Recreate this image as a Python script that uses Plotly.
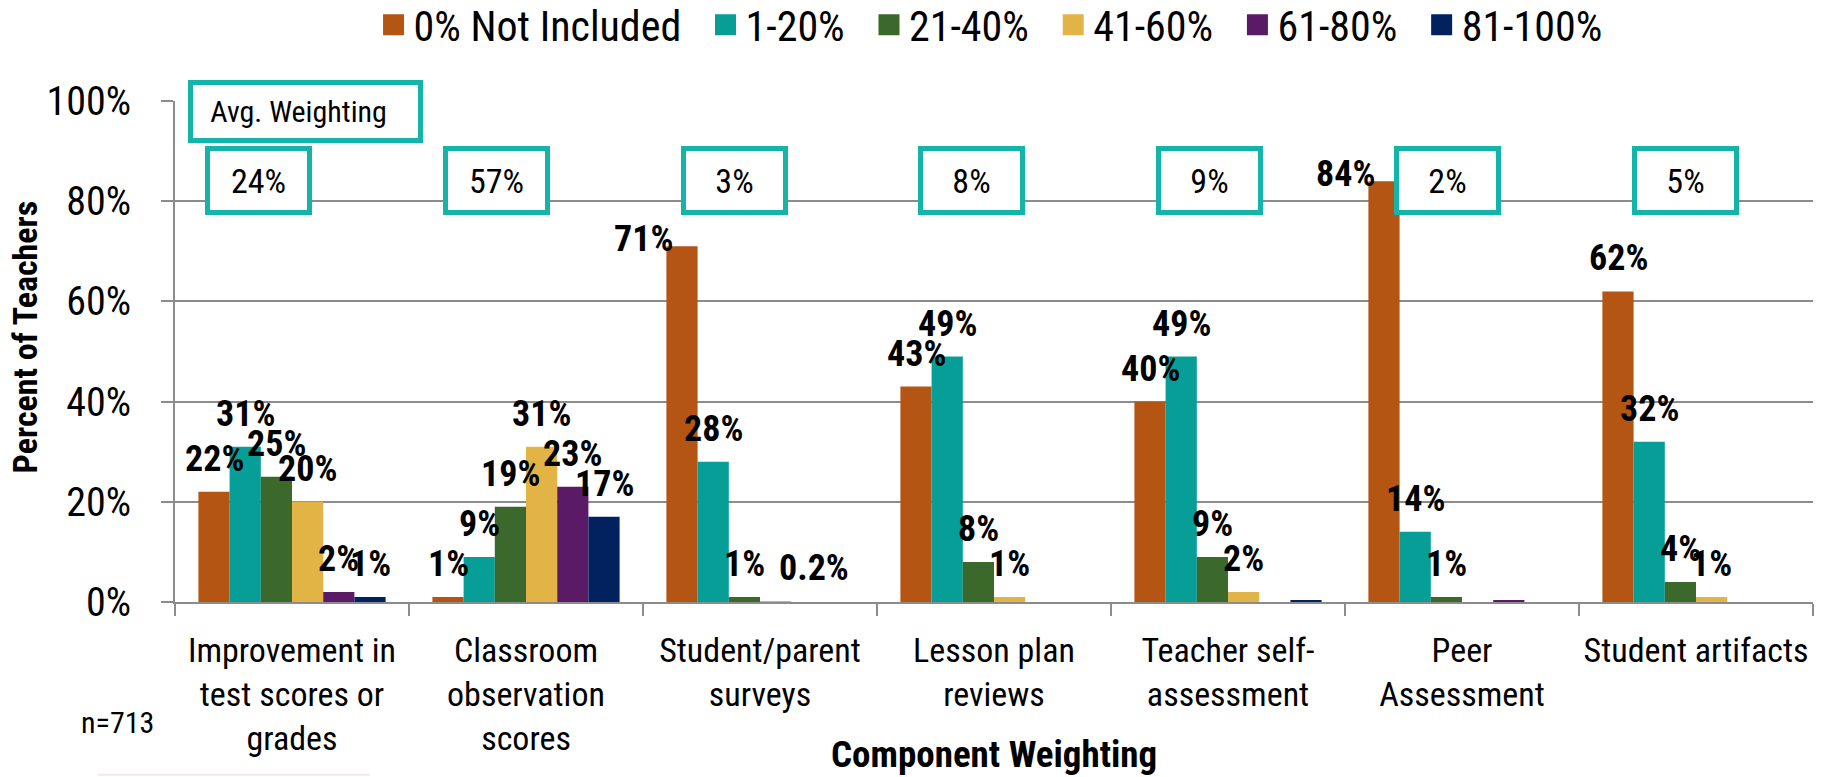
import plotly.graph_objects as go

# ---------------- data ----------------
CATEGORIES = [
    "Improvement in<br>test scores or<br>grades",
    "Classroom<br>observation<br>scores",
    "Student/parent<br>surveys",
    "Lesson plan<br>reviews",
    "Teacher self-<br>assessment",
    "Peer<br>Assessment",
    "Student artifacts",
]
SERIES = ["0% Not Included", "1-20%", "21-40%", "41-60%", "61-80%", "81-100%"]

NOT_INCLUDED = [22, 1, 71, 43, 40, 84, 62]
PCT_1_20 = [31, 9, 28, 49, 49, 14, 32]
PCT_21_40 = [25, 19, 1, 8, 9, 1, 4]
PCT_41_60 = [20, 31, 0.2, 1, 2, 0, 1]
PCT_61_80 = [2, 23, 0, 0, 0, 0.3, 0]
PCT_81_100 = [1, 17, 0, 0, 0.4, 0, 0]

LBL_NOT_INCLUDED = ["22%", "1%", "71%", "43%", "40%", "84%", "62%"]
LBL_1_20 = ["31%", "9%", "28%", "49%", "49%", "14%", "32%"]
LBL_21_40 = ["25%", "19%", "1%", "8%", "9%", "1%", "4%"]
LBL_41_60 = ["20%", "31%", "0.2%", "1%", "2%", "", "1%"]
LBL_61_80 = ["2%", "23%", "", "", "", "", ""]
LBL_81_100 = ["1%", "17%", "", "", "", "", ""]

# first-series labels that sit beside (left of) the bar instead of above it
SIDE_LABEL_CATS = [2, 5]
# (series index, category index) -> horizontal label nudge in px
LABEL_NUDGE = {(3, 2): 38}

AVG_TITLE = "Avg. Weighting"
AVG_WEIGHTING = ["24%", "57%", "3%", "8%", "9%", "2%", "5%"]
Y_TICKS = [0, 20, 40, 60, 80, 100]

COLORS = ["#b45513", "#069e97", "#3b682b", "#e2b446", "#5b1a66", "#02215f"]
BOX_COLOR = "#14b4a8"
GRID = "#8c8c8c"
FONT = "Roboto Condensed, Liberation Sans, Arial, sans-serif"

values = [NOT_INCLUDED, PCT_1_20, PCT_21_40, PCT_41_60, PCT_61_80, PCT_81_100]
labels = [LBL_NOT_INCLUDED, LBL_1_20, LBL_21_40, LBL_41_60, LBL_61_80, LBL_81_100]

N_SERIES = len(SERIES)
GROUP_W = 0.8                 # 1 - bargap
BAR_W = GROUP_W / N_SERIES
label_font = dict(family=FONT, size=36, color="black", weight="bold")

fig = go.Figure()
annotations = []
for k, (name, vals, lbls, col) in enumerate(zip(SERIES, values, labels, COLORS)):
    fig.add_trace(go.Bar(
        x=CATEGORIES, y=vals, name=name, marker_color=col,
        marker_line_width=0, showlegend=False, hoverinfo="skip",
    ))
    # legend entry with a larger square swatch
    fig.add_trace(go.Scatter(
        x=[None], y=[None], mode="markers", name=name + "\u00a0\u00a0",
        marker=dict(symbol="square", size=16, color=col,
                    line=dict(width=5, color=col)),
        showlegend=True,
    ))
    # value labels
    for i, (v, t) in enumerate(zip(vals, lbls)):
        if not t:
            continue
        if k == 0 and i in SIDE_LABEL_CATS:
            annotations.append(dict(
                x=i - GROUP_W / 2 + 0.038, y=v, xref="x", yref="y", text=t,
                showarrow=False, xanchor="right", yanchor="bottom", yshift=-16,
                font=label_font,
            ))
        else:
            annotations.append(dict(
                x=i - GROUP_W / 2 + (k + 0.5) * BAR_W, y=v, xref="x", yref="y",
                text=t, showarrow=False, xanchor="center", yanchor="bottom",
                xshift=LABEL_NUDGE.get((k, i), 0), yshift=10, font=label_font,
            ))

# Avg. weighting boxes
annotations.append(dict(
    x=0.058, y=97.9, xref="x", yref="y", text=AVG_TITLE + "\u00a0\u00a0",
    showarrow=False, xanchor="center", yanchor="middle",
    width=225, height=53, bordercolor=BOX_COLOR, borderwidth=5, borderpad=0,
    bgcolor="white", font=dict(family=FONT, size=30, color="black"),
))
for i, a in enumerate(AVG_WEIGHTING):
    annotations.append(dict(
        x=i - 0.143 + 0.016 * i, y=84.1, xref="x", yref="y", text=a,
        showarrow=False, xanchor="center", yanchor="middle",
        width=97, height=59, bordercolor=BOX_COLOR, borderwidth=5, borderpad=0,
        bgcolor="white", font=dict(family=FONT, size=34, color="black"),
    ))

# axis titles and note
annotations.append(dict(
    x=0.5, y=-0.305, xref="paper", yref="paper", text="<b>Component Weighting</b>",
    showarrow=False, xanchor="center", yanchor="middle",
    font=dict(family=FONT, size=37, color="black"),
))
annotations.append(dict(
    x=-0.091, y=0.53, xref="paper", yref="paper", text="<b>Percent of Teachers</b>",
    showarrow=False, xanchor="center", yanchor="middle", textangle=-90,
    font=dict(family=FONT, size=34, color="black"),
))
annotations.append(dict(
    x=-0.035, y=-0.24, xref="paper", yref="paper", text="n=713",
    showarrow=False, xanchor="center", yanchor="middle",
    font=dict(family=FONT, size=30, color="black"),
))

fig.update_layout(
    width=1820, height=769,
    margin=dict(l=167, r=15, t=93, b=175),
    paper_bgcolor="white", plot_bgcolor="white",
    barmode="group", bargap=0.2, bargroupgap=0,
    font=dict(family=FONT, color="black"),
    legend=dict(
        orientation="h", x=0.504, xanchor="center", y=0.978, yanchor="middle",
        yref="container",
        font=dict(family=FONT, size=42, color="black"),
        bgcolor="rgba(0,0,0,0)",
    ),
    annotations=annotations,
    shapes=[dict(type="line", xref="paper", yref="paper",
                 x0=-0.047, x1=0.119, y0=-0.345, y1=-0.345,
                 line=dict(color="#f7e7dd", width=2))],
)
fig.update_xaxes(
    showline=True, linecolor=GRID, linewidth=2, automargin=False, tickangle=0,
    ticks="outside", tickson="boundaries", ticklen=12, tickcolor=GRID, tickwidth=1.5,
    tickfont=dict(family=FONT, size=34, color="black"),
    ticklabelstandoff=17,
    showgrid=False,
)
fig.update_yaxes(
    range=[0, 100], tickvals=Y_TICKS, ticktext=[f"{v}%" for v in Y_TICKS],
    showline=True, linecolor=GRID, linewidth=2, automargin=False,
    ticks="outside", ticklen=12, tickcolor=GRID, tickwidth=1.5,
    showgrid=True, gridcolor=GRID, gridwidth=1.5,
    tickfont=dict(family=FONT, size=40, color="black"),
    ticklabelstandoff=22,
    zeroline=False,
)

fig.write_html("out.html")
